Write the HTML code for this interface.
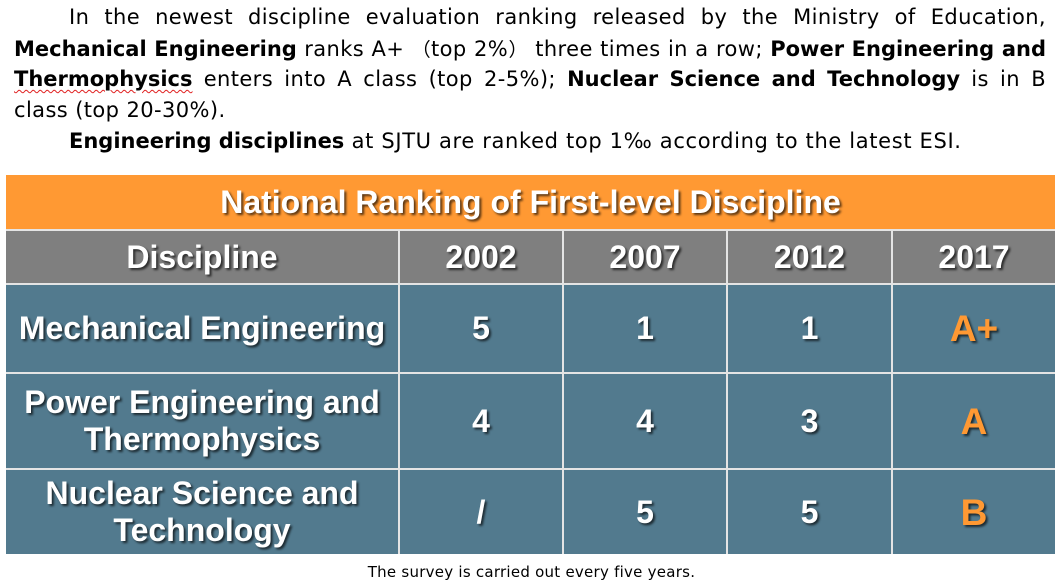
<!DOCTYPE html>
<html>
<head>
<meta charset="utf-8">
<style>
  html, body { margin:0; padding:0; background:#fff; }
  body { width:1063px; height:584px; position:relative; overflow:hidden; }
  .para {
    position:absolute; left:14px; top:2px; width:1032px;
    font-family:"DejaVu Sans", "Noto Sans CJK SC", sans-serif;
    font-size:21px; line-height:31px; color:#000; letter-spacing:0.4px;
  }
  .para .ln { white-space:nowrap; height:31px; }
  .para .j { text-align:justify; text-align-last:justify; white-space:normal; }
  .para .ind { padding-left:55px; }
  .para b { font-weight:bold; letter-spacing:0; }
  .para .l5 { letter-spacing:0.65px; }
  .fw { font-family:"Noto Sans CJK SC", sans-serif; font-size:19px; letter-spacing:0; }
  .sq { text-decoration: underline wavy #e02020; text-decoration-thickness:1px; text-underline-offset:3px; }
  .grid { position:absolute; left:6px; top:175px; width:1049px; height:379px; background:#E4E4E4; }
  .cell {
    position:absolute; display:flex; align-items:center; justify-content:center; text-align:center;
    font-family:"Liberation Sans", sans-serif; font-weight:bold; font-size:32px; color:#fff;
    text-shadow: 2px 2px 2px rgba(0,0,0,0.65);
    line-height:37px;
  }
  .org { background:#FF9933; }
  .gry { background:#7F7F7F; }
  .blu { background:#527A8E; }
  .o { color:#FF9933; font-size:37px; }
  .cap {
    position:absolute; left:0; width:1063px; top:563px; text-align:center;
    font-family:"DejaVu Sans", "Liberation Sans", sans-serif; font-size:15px; letter-spacing:0.25px; color:#000;
  }
</style>
</head>
<body>
<div class="para">
  <div class="ln j ind">In the newest discipline evaluation ranking released by the Ministry of Education,</div>
  <div class="ln j"><b>Mechanical Engineering</b> ranks A+ <span class="fw">（</span>top 2%<span class="fw">）</span> three times in a row; <b>Power Engineering and</b></div>
  <div class="ln j"><b><span class="sq">Thermophysics</span></b> enters into A class (top 2-5%); <b>Nuclear Science and Technology</b> is in B</div>
  <div class="ln">class (top 20-30%).</div>
  <div class="ln ind l5"><b>Engineering disciplines</b> at SJTU are ranked top 1‰ according to the latest ESI.</div>
</div>

<div class="grid"></div>

<div class="cell org" style="left:6px;top:175px;width:1049px;height:54px;">National Ranking of First-level Discipline</div>

<div class="cell gry" style="left:6px;top:231px;width:392px;height:52px;">Discipline</div>
<div class="cell gry" style="left:400px;top:231px;width:162px;height:52px;">2002</div>
<div class="cell gry" style="left:564px;top:231px;width:162px;height:52px;">2007</div>
<div class="cell gry" style="left:728px;top:231px;width:163px;height:52px;">2012</div>
<div class="cell gry" style="left:893px;top:231px;width:162px;height:52px;">2017</div>

<div class="cell blu" style="left:6px;top:285px;width:392px;height:87px;">Mechanical Engineering</div>
<div class="cell blu" style="left:400px;top:285px;width:162px;height:87px;">5</div>
<div class="cell blu" style="left:564px;top:285px;width:162px;height:87px;">1</div>
<div class="cell blu" style="left:728px;top:285px;width:163px;height:87px;">1</div>
<div class="cell blu o" style="left:893px;top:285px;width:162px;height:87px;">A+</div>

<div class="cell blu" style="left:6px;top:374px;width:392px;height:94px;">Power Engineering and<br>Thermophysics</div>
<div class="cell blu" style="left:400px;top:374px;width:162px;height:94px;">4</div>
<div class="cell blu" style="left:564px;top:374px;width:162px;height:94px;">4</div>
<div class="cell blu" style="left:728px;top:374px;width:163px;height:94px;">3</div>
<div class="cell blu o" style="left:893px;top:374px;width:162px;height:94px;">A</div>

<div class="cell blu" style="left:6px;top:470px;width:392px;height:84px;">Nuclear Science and<br>Technology</div>
<div class="cell blu" style="left:400px;top:470px;width:162px;height:84px;">/</div>
<div class="cell blu" style="left:564px;top:470px;width:162px;height:84px;">5</div>
<div class="cell blu" style="left:728px;top:470px;width:163px;height:84px;">5</div>
<div class="cell blu o" style="left:893px;top:470px;width:162px;height:84px;">B</div>

<div class="cap">The survey is carried out every five years.</div>
</body>
</html>
